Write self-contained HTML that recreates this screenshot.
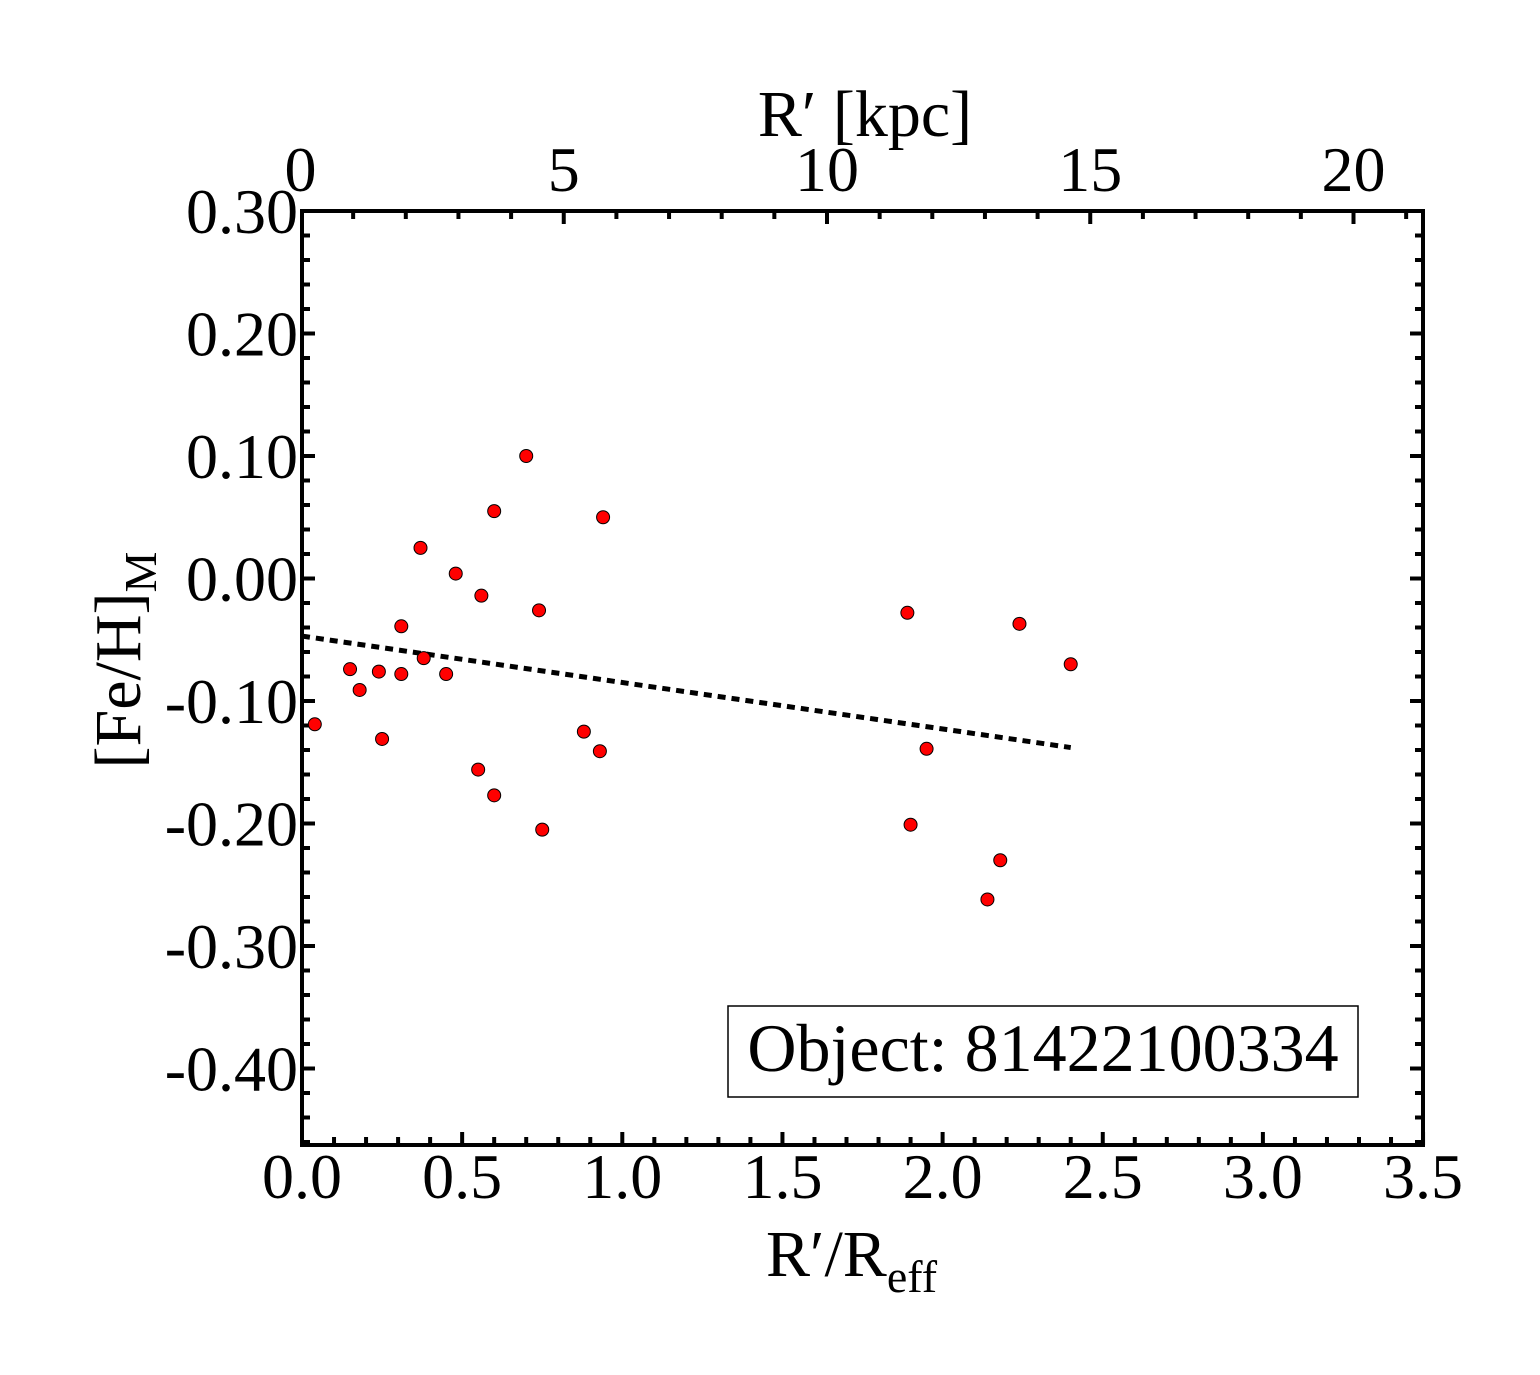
<!DOCTYPE html>
<html><head><meta charset="utf-8"><style>
html,body{margin:0;padding:0;background:#fff;}
svg{display:block;font-family:"Liberation Serif",serif;}
</style></head><body>
<svg id="chart" width="1540" height="1375" viewBox="0 0 1540 1375" xmlns="http://www.w3.org/2000/svg">
<rect width="1540" height="1375" fill="#fff"/>
<g id="ticks"></g>
<g id="labels" font-size="64" fill="#000"></g>
<rect x="302" y="211" width="1121" height="934" fill="none" stroke="#000" stroke-width="4"/>
<line id="fit" stroke="#000" stroke-width="5" stroke-dasharray="8,6"/>
<g id="pts"></g>
<g>
<rect x="728" y="1006" width="630" height="91" fill="#fff" stroke="#000" stroke-width="1.5"/>
<text x="1043" y="1071" font-size="68" text-anchor="middle">Object: 81422100334</text>
</g>
<text x="766" y="1276" font-size="66">R′/R<tspan font-size="46" dy="16">eff</tspan></text>
<text x="865" y="136" font-size="66" text-anchor="middle">R′ [kpc]</text>
<text transform="translate(140,660) rotate(-90)" font-size="66" text-anchor="middle">[Fe/H]<tspan font-size="46" dy="16">M</tspan></text>
</svg>
<script>
const xs=[0.04,0.15,0.18,0.24,0.25,0.31,0.31,0.37,0.38,0.45,0.48,0.56,0.55,0.60,0.60,0.70,0.74,0.75,0.88,0.93,0.94,1.89,1.90,1.95,2.14,2.18,2.24,2.40];
const ys=[-0.119,-0.074,-0.091,-0.076,-0.131,-0.039,-0.078,0.025,-0.065,-0.078,0.004,-0.014,-0.156,0.055,-0.177,0.100,-0.026,-0.205,-0.125,-0.141,0.050,-0.028,-0.201,-0.139,-0.262,-0.230,-0.037,-0.070];
const fitX=[0,2.40];
const fitY=[-0.047,-0.138];
const xTicks=["0.0","0.5","1.0","1.5","2.0","2.5","3.0","3.5"];
const yTicks=["0.30","0.20","0.10","0.00","-0.10","-0.20","-0.30","-0.40"];
const kpcTicks=["0","5","10","15","20"];
const NS="http://www.w3.org/2000/svg";
const X=v=>302+v*320.3;
const Y=v=>578.5-v*1225;
const K=v=>300.5+v*52.65;
function el(t,a,p){const e=document.createElementNS(NS,t);for(const k in a)e.setAttribute(k,a[k]);p.appendChild(e);return e;}
const tg=document.getElementById('ticks'),lg=document.getElementById('labels');
for(let i=0;i<=35;i++){const x=X(i/10),L=i%5==0?13:8;
 el('line',{x1:x,x2:x,y1:1145,y2:1145-L,stroke:'#000','stroke-width':4},tg);}
for(let i=1;i<=21;i++){const x=K(i),L=i%5==0?13:8;
 el('line',{x1:x,x2:x,y1:211,y2:211+L,stroke:'#000','stroke-width':4},tg);}
for(let i=-23;i<=15;i++){const y=Y(i*0.02),L=i%5==0?13:8;
 el('line',{x1:302,x2:302+L,y1:y,y2:y,stroke:'#000','stroke-width':4},tg);
 el('line',{x1:1423,x2:1423-L,y1:y,y2:y,stroke:'#000','stroke-width':4},tg);}
xTicks.forEach(s=>{const t=el('text',{x:X(parseFloat(s)),y:1198,'text-anchor':'middle'},lg);t.textContent=s;

});
yTicks.forEach(s=>{const t=el('text',{x:298,y:Y(parseFloat(s))+22,'text-anchor':'end'},lg);t.textContent=s;

});
kpcTicks.forEach(s=>{const t=el('text',{x:K(parseFloat(s)),y:191,'text-anchor':'middle'},lg);t.textContent=s;

});
const f=document.getElementById('fit');
f.setAttribute('x1',X(fitX[0]));f.setAttribute('y1',Y(fitY[0]));f.setAttribute('x2',X(fitX[1]));f.setAttribute('y2',Y(fitY[1]));
const pg=document.getElementById('pts');
xs.forEach((v,i)=>{const c=el('circle',{cx:X(v),cy:Y(ys[i]),r:6.5,fill:'#f00',stroke:'#000','stroke-width':1},pg);

});
</script>
</body></html>
